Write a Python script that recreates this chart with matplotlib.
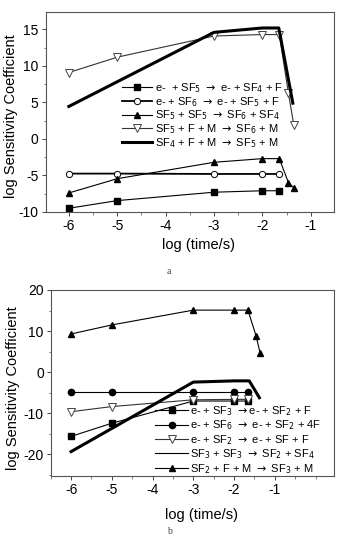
import matplotlib
matplotlib.use("Agg")
import matplotlib.pyplot as plt
from matplotlib.lines import Line2D
from matplotlib.ticker import MultipleLocator

plt.rcParams['font.family'] = ['Liberation Sans', 'DejaVu Sans']
plt.rcParams['mathtext.fontset'] = 'dejavusans'
plt.rcParams['axes.unicode_minus'] = False

# ---- panel a data ----
a_x5 = [-6, -5, -3, -2, -1.65]
a_x7 = [-6, -5, -3, -2, -1.65, -1.46, -1.35]
a_sf5_e = [-9.5, -8.45, -7.3, -7.1, -7.1]
a_sf6_e = [-4.75, -4.75, -4.8, -4.8, -4.8]
a_sf5_sf5 = [-7.4, -5.45, -3.2, -2.7, -2.7, -6.0, -6.7]
a_sf5_f = [9.1, 11.2, 14.1, 14.3, 14.3, 6.25, 1.9]
a_x_thick = [-6, -3, -2, -1.66, -1.37]
a_sf4_f = [4.45, 14.6, 15.2, 15.2, 4.9]
a_labels = [
    r'e-  + SF$_5$ $\rightarrow$ e- + SF$_4$ + F',
    r'e- + SF$_6$ $\rightarrow$ e- + SF$_5$ + F',
    r'SF$_5$ + SF$_5$ $\rightarrow$ SF$_6$ + SF$_4$',
    r'SF$_5$ + F + M $\rightarrow$ SF$_6$ + M',
    r'SF$_4$ + F + M $\rightarrow$ SF$_5$ + M',
]

# ---- panel b data ----
b_x5 = [-6, -5, -3, -2, -1.66]
b_x7 = [-6, -5, -3, -2, -1.66, -1.46, -1.36]
b_sf3_e = [-15.6, -12.4, -7.0, -7.0, -7.0]
b_sf6_e = [-4.8, -4.8, -4.8, -4.8, -4.8]
b_sf2_e = [-9.6, -8.35, -6.7, -6.6, -6.6]
b_x_thick = [-6, -3, -2, -1.63, -1.5, -1.38]
b_sf3_sf3 = [-19.3, -2.4, -2.1, -2.1, -4.2, -6.2]
b_sf2_f = [9.3, 11.5, 15.1, 15.1, 15.1, 8.8, 4.6]
b_labels = [
    r'e- + SF$_3$ $\rightarrow$e- + SF$_2$ + F',
    r'e- + SF$_6$ $\rightarrow$ e- + SF$_2$ + 4F',
    r'e- + SF$_2$ $\rightarrow$ e- + SF + F',
    r'SF$_3$ + SF$_3$ $\rightarrow$ SF$_2$ + SF$_4$',
    r'SF$_2$ + F + M $\rightarrow$ SF$_3$ + M',
]

xticks = [-6, -5, -4, -3, -2, -1]
thin = 0.8
thick = 2.2
ms = 4.5

fig = plt.figure(figsize=(3.38, 5.42), dpi=100)
ax1 = fig.add_axes([0.135, 0.609, 0.853, 0.369])
ax2 = fig.add_axes([0.150, 0.122, 0.838, 0.343])


def style_axes(ax):
    for s in ax.spines.values():
        s.set_color('#555555')
        s.set_linewidth(0.8)
    ax.tick_params(which='major', direction='out', length=3, width=0.7,
                   labelsize=10, colors='#444444', labelcolor='black', pad=2)
    ax.tick_params(which='minor', direction='out', length=1.8, width=0.6,
                   colors='#666666')
    ax.set_xticks(xticks)
    ax.xaxis.set_minor_locator(MultipleLocator(0.5))


# panel a
ax1.plot(a_x5, a_sf5_e, '-', color='black', lw=thin, marker='s', ms=ms, mfc='black')
ax1.plot(a_x5, a_sf6_e, '-', color='black', lw=1.3, marker='o', ms=ms, mfc='white', mew=0.7)
ax1.plot(a_x7, a_sf5_sf5, '-', color='black', lw=thin, marker='^', ms=ms + 0.5, mfc='black')
ax1.plot(a_x7, a_sf5_f, '-', color='#333333', lw=thin, marker='v', ms=ms + 1, mfc='white',
         mec='#444444', mew=0.7)
ax1.plot(a_x_thick, a_sf4_f, '-', color='black', lw=thick)
ax1.set_xlim(-6.48, -0.52)
ax1.set_ylim(-10, 17.4)
ax1.set_yticks([-10, -5, 0, 5, 10, 15])
ax1.yaxis.set_minor_locator(MultipleLocator(2.5))
style_axes(ax1)
ax1.set_xlabel('log (time/s)', fontsize=10.5)
ax1.set_ylabel('log Sensitivity Coefficient', fontsize=10.5)
ax1.xaxis.set_label_coords(0.53, -0.13)
ax1.yaxis.set_label_coords(-0.095, 0.48)

a_handles = [
    Line2D([], [], color='black', lw=thin, marker='s', ms=ms),
    Line2D([], [], color='black', lw=1.3, marker='o', ms=ms, mfc='white', mew=0.7),
    Line2D([], [], color='black', lw=thin, marker='^', ms=ms + 0.5),
    Line2D([], [], color='#333333', lw=thin, marker='v', ms=ms + 1, mfc='white',
           mec='#444444', mew=0.7),
    Line2D([], [], color='black', lw=thick),
]
ax1.legend(a_handles, a_labels, loc='upper left', bbox_to_anchor=(0.265, 0.655),
           frameon=False, fontsize=8, handlelength=2.7, handletextpad=0.3,
           labelspacing=0.0, borderpad=0, borderaxespad=0)

# panel b
ax2.plot(b_x5, b_sf3_e, '-', color='black', lw=thin, marker='s', ms=ms, mfc='black')
ax2.plot(b_x5, b_sf6_e, '-', color='black', lw=thin, marker='o', ms=ms, mfc='black')
ax2.plot(b_x5, b_sf2_e, '-', color='#333333', lw=thin, marker='v', ms=ms + 1, mfc='white',
         mec='#444444', mew=0.7)
ax2.plot(b_x_thick, b_sf3_sf3, '-', color='black', lw=thick)
ax2.plot(b_x7, b_sf2_f, '-', color='black', lw=thin, marker='^', ms=ms + 0.5, mfc='black')
ax2.set_xlim(-6.5, 0.45)
ax2.set_ylim(-25.2, 20)
ax2.set_yticks([-20, -10, 0, 10, 20])
ax2.yaxis.set_minor_locator(MultipleLocator(5))
style_axes(ax2)
ax2.set_xlabel('log (time/s)', fontsize=10.5)
ax2.set_ylabel('log Sensitivity Coefficient', fontsize=10.5)
ax2.xaxis.set_label_coords(0.534, -0.172)
ax2.yaxis.set_label_coords(-0.107, 0.47)

b_handles = [
    Line2D([], [], color='black', lw=thin, marker='s', ms=ms),
    Line2D([], [], color='black', lw=thin, marker='o', ms=ms),
    Line2D([], [], color='#333333', lw=thin, marker='v', ms=ms + 1, mfc='white',
           mec='#444444', mew=0.7),
    Line2D([], [], color='black', lw=thin),
    Line2D([], [], color='black', lw=thin, marker='^', ms=ms + 0.5),
]
ax2.legend(b_handles, b_labels, loc='upper left', bbox_to_anchor=(0.368, 0.385),
           frameon=False, fontsize=8, handlelength=3.0, handletextpad=0.2,
           labelspacing=0.05, borderpad=0, borderaxespad=0)

fig.text(0.5, 1 - 271 / 542, 'a', ha='center', va='center', fontsize=7,
         family='Liberation Serif', color='#444444')
fig.text(0.5, 1 - 532 / 542, 'b', ha='center', va='center', fontsize=7,
         family='Liberation Serif', color='#444444')

fig.savefig('out.png', dpi=100)
